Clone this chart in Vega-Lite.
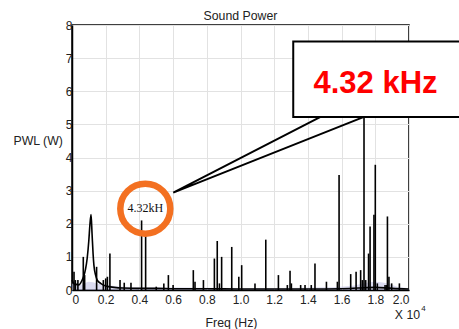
{
  "$schema": "https://vega.github.io/schema/vega-lite/v6.json",
  "width": 337,
  "height": 265,
  "autosize": {"type": "none"},
  "padding": {"left": 72, "top": 25, "right": 50, "bottom": 39},
  "background": "white",
  "config": {
    "font": "Liberation Sans",
    "view": {"stroke": "#000", "strokeWidth": 1.5},
    "axis": {"labelFont": "Liberation Sans", "titleFont": "Liberation Sans", "labelColor": "#222", "titleColor": "#222", "gridColor": "#e2e2e2", "gridWidth": 1, "domainColor": "#000", "domainWidth": 1.5, "ticks": false, "labelFontSize": 12, "titleFontSize": 12.3, "titleFontWeight": "normal"}
  },
  "title": {"text": "Sound Power", "fontSize": 12.3, "fontWeight": "normal", "color": "#222", "font": "Liberation Sans", "offset": -3, "anchor": "middle", "frame": "group"},
  "datasets": {
    "haze": [
      {"f": 0.0, "p": 0.2}, {"f": 0.05, "p": 0.15}, {"f": 0.1, "p": 0.25}, {"f": 0.15, "p": 0.2},
      {"f": 0.2, "p": 0.15}, {"f": 0.3, "p": 0.1}, {"f": 0.5, "p": 0.08}, {"f": 0.8, "p": 0.07},
      {"f": 1.2, "p": 0.06}, {"f": 1.5, "p": 0.08}, {"f": 1.65, "p": 0.12}, {"f": 1.75, "p": 0.22},
      {"f": 1.8, "p": 0.25}, {"f": 1.87, "p": 0.2}, {"f": 1.95, "p": 0.08}, {"f": 2.0, "p": 0.05}
    ],
    "baseline": [
      {"f": 0.0, "p": 0.3}, {"f": 0.01, "p": 0.2}, {"f": 0.02, "p": 0.15}, {"f": 0.03, "p": 0.18},
      {"f": 0.04, "p": 0.15}, {"f": 0.05, "p": 0.2}, {"f": 0.06, "p": 0.3}, {"f": 0.07, "p": 0.42},
      {"f": 0.08, "p": 0.62}, {"f": 0.09, "p": 0.95}, {"f": 0.1, "p": 1.5}, {"f": 0.106, "p": 1.95},
      {"f": 0.113, "p": 2.28}, {"f": 0.119, "p": 1.7}, {"f": 0.125, "p": 1.1}, {"f": 0.13, "p": 0.75},
      {"f": 0.14, "p": 0.45}, {"f": 0.15, "p": 0.3}, {"f": 0.17, "p": 0.2}, {"f": 0.2, "p": 0.12},
      {"f": 0.25, "p": 0.08}, {"f": 0.3, "p": 0.06}, {"f": 0.4, "p": 0.05}, {"f": 0.5, "p": 0.05},
      {"f": 0.6, "p": 0.04}, {"f": 0.8, "p": 0.04}, {"f": 1.0, "p": 0.03}, {"f": 1.2, "p": 0.03},
      {"f": 1.4, "p": 0.03}, {"f": 1.6, "p": 0.04}, {"f": 1.7, "p": 0.06}, {"f": 1.8, "p": 0.08},
      {"f": 1.9, "p": 0.05}, {"f": 2.0, "p": 0.03}
    ],
    "spikes": [
      {"f": 0.012, "p": 0.55}, {"f": 0.02, "p": 0.3}, {"f": 0.035, "p": 0.3}, {"f": 0.067, "p": 1.0},
      {"f": 0.075, "p": 0.45}, {"f": 0.146, "p": 0.7}, {"f": 0.186, "p": 0.3}, {"f": 0.2, "p": 0.35},
      {"f": 0.21, "p": 0.4}, {"f": 0.225, "p": 1.1}, {"f": 0.285, "p": 0.3}, {"f": 0.31, "p": 0.22},
      {"f": 0.35, "p": 0.22}, {"f": 0.413, "p": 2.1}, {"f": 0.437, "p": 1.65}, {"f": 0.5, "p": 0.1},
      {"f": 0.545, "p": 0.2}, {"f": 0.572, "p": 0.45}, {"f": 0.6, "p": 0.15}, {"f": 0.72, "p": 0.6},
      {"f": 0.73, "p": 0.25}, {"f": 0.78, "p": 0.3}, {"f": 0.845, "p": 0.95}, {"f": 0.862, "p": 1.48},
      {"f": 0.875, "p": 0.2}, {"f": 0.888, "p": 1.0}, {"f": 0.948, "p": 1.3}, {"f": 0.99, "p": 0.4},
      {"f": 1.007, "p": 0.75}, {"f": 1.086, "p": 0.2}, {"f": 1.15, "p": 1.52}, {"f": 1.225, "p": 0.45},
      {"f": 1.278, "p": 0.15}, {"f": 1.294, "p": 0.58}, {"f": 1.302, "p": 0.2}, {"f": 1.357, "p": 0.15},
      {"f": 1.383, "p": 0.15}, {"f": 1.42, "p": 0.15}, {"f": 1.442, "p": 0.8}, {"f": 1.51, "p": 0.25},
      {"f": 1.575, "p": 0.25}, {"f": 1.585, "p": 3.47}, {"f": 1.654, "p": 0.48}, {"f": 1.686, "p": 0.55},
      {"f": 1.713, "p": 0.6}, {"f": 1.723, "p": 0.3}, {"f": 1.733, "p": 5.8}, {"f": 1.743, "p": 0.3},
      {"f": 1.76, "p": 1.1}, {"f": 1.769, "p": 1.92}, {"f": 1.792, "p": 2.27}, {"f": 1.8, "p": 3.78},
      {"f": 1.812, "p": 0.2}, {"f": 1.858, "p": 0.15}, {"f": 1.868, "p": 0.15}, {"f": 1.872, "p": 2.22},
      {"f": 1.881, "p": 0.4}, {"f": 1.897, "p": 0.2}, {"f": 1.943, "p": 0.2}
    ],
    "circle": [{"f": 0.435, "p": 2.456, "label": "4.32kH"}],
    "pointer": [
      {"f": 1.472, "p": 5.22, "o": 1}, {"f": 0.601, "p": 2.94, "o": 2}, {"f": 1.729, "p": 5.22, "o": 3}
    ],
    "box": [{"f": 1.313, "f2": 2.4, "p": 7.5, "p2": 5.22, "label": "4.32 kHz", "fc": 1.801, "pc": 5.94}],
    "mult": [{"f": 1.991, "p": -0.755, "label": "X 10"}],
    "exp": [{"f": 2.086, "p": -0.574, "label": "4"}]
  },
  "encoding": {
    "x": {"field": "f", "type": "quantitative", "scale": {"domain": [0, 2], "nice": false, "zero": false},
      "axis": {"values": [0, 0.2, 0.4, 0.6, 0.8, 1.0, 1.2, 1.4, 1.6, 1.8, 2.0], "labelExpr": "datum.value == 0 ? '0' : format(datum.value, '.1f')", "labelPadding": 4, "title": "Freq (Hz)", "titleX": 159, "titleY": 32, "titleAnchor": null, "titleAlign": "center", "titleBaseline": "middle"}},
    "y": {"field": "p", "type": "quantitative", "scale": {"domain": [0, 8], "nice": false},
      "axis": {"values": [0, 1, 2, 3, 4, 5, 6, 7, 8], "labelPadding": 0, "title": "PWL (W)", "titleAngle": 0, "titleX": -59, "titleY": 115, "titleAlign": "left", "titleBaseline": "middle"}}
  },
  "layer": [
    {"data": {"name": "haze"}, "mark": {"type": "area", "color": "#c4c4e6", "opacity": 0.6, "interpolate": "monotone"}},
    {"data": {"name": "baseline"}, "mark": {"type": "line", "color": "#000", "strokeWidth": 1.6, "interpolate": "monotone"}},
    {"data": {"name": "spikes"}, "mark": {"type": "rule", "color": "#000", "strokeWidth": 1.6}, "encoding": {"y2": {"datum": 0}}},
    {"data": {"name": "circle"}, "mark": {"type": "point", "shape": "circle", "filled": false, "stroke": "#f37021", "strokeWidth": 6.5, "size": 2500, "opacity": 1, "clip": false}},
    {"data": {"name": "circle"}, "mark": {"type": "text", "font": "Liberation Serif", "fontSize": 12, "color": "#111", "align": "center", "baseline": "middle", "dy": -1}, "encoding": {"text": {"field": "label"}}},
    {"data": {"name": "pointer"}, "mark": {"type": "line", "color": "#000", "strokeWidth": 2, "clip": false}, "encoding": {"order": {"field": "o"}}},
    {"data": {"name": "box"}, "mark": {"type": "rect", "fill": "white", "stroke": "#000", "strokeWidth": 2, "clip": false}, "encoding": {"x2": {"field": "f2"}, "y2": {"field": "p2"}}},
    {"data": {"name": "box"}, "mark": {"type": "text", "font": "Liberation Sans", "fontWeight": "bold", "fontSize": 31, "color": "#ff0000", "align": "center", "baseline": "alphabetic", "clip": false}, "encoding": {"x": {"field": "fc", "type": "quantitative"}, "y": {"field": "pc", "type": "quantitative"}, "text": {"field": "label"}}},
    {"data": {"name": "mult"}, "mark": {"type": "text", "fontSize": 12.3, "color": "#222", "align": "center", "baseline": "middle", "clip": false}, "encoding": {"text": {"field": "label"}}},
    {"data": {"name": "exp"}, "mark": {"type": "text", "fontSize": 8, "color": "#222", "align": "center", "baseline": "middle", "clip": false}, "encoding": {"text": {"field": "label"}}}
  ]
}
